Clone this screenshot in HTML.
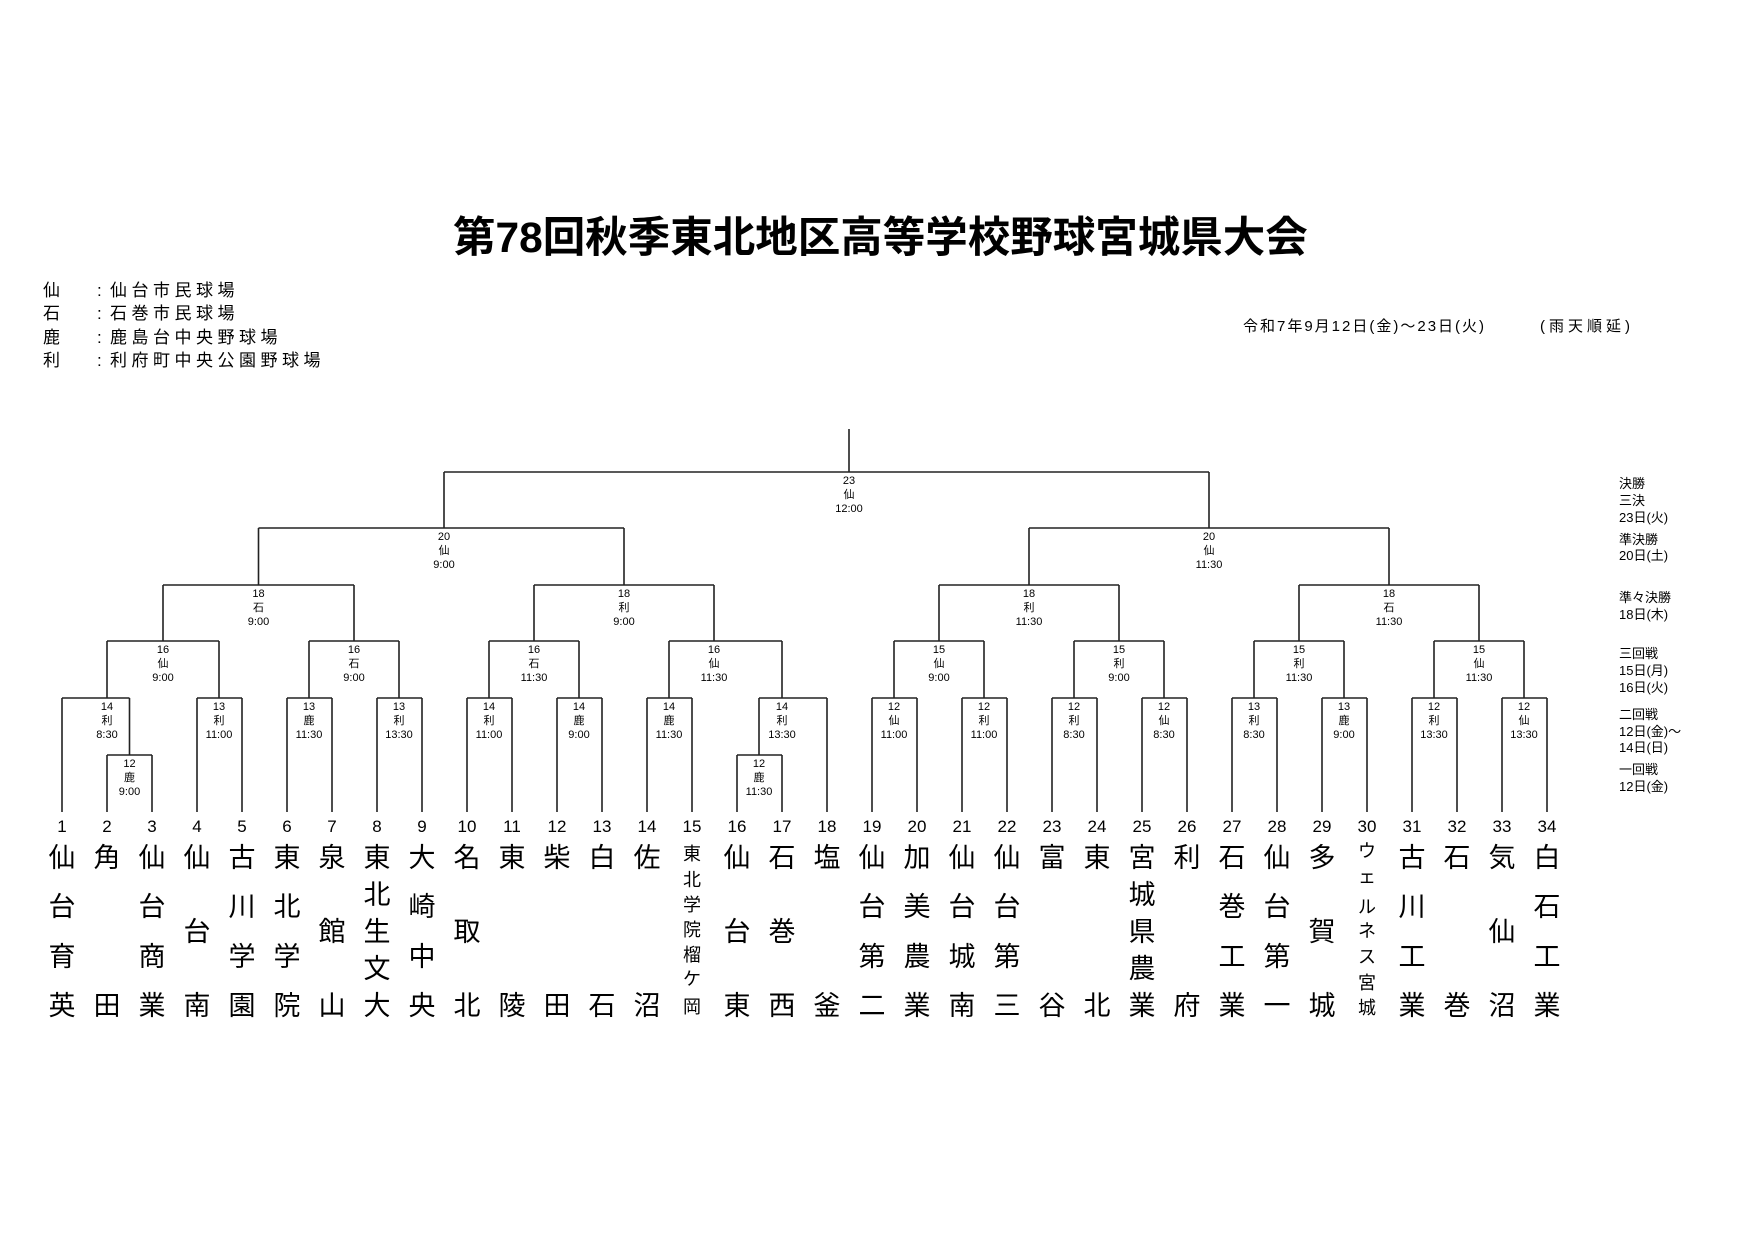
<!DOCTYPE html>
<html><head><meta charset="utf-8"><style>
html,body{margin:0;padding:0;background:#fff;}
svg{display:block;}
text{font-family:"Liberation Sans","Noto Sans CJK JP",sans-serif;fill:#000;}
.t{font-size:11px;text-anchor:middle;}
.n{font-size:17px;text-anchor:middle;}
.k{font-size:27px;text-anchor:middle;}
.s{font-size:18px;text-anchor:middle;}
.lg{font-size:17px;}
.r{font-size:13px;}
</style></head><body>
<svg width="1754" height="1240" viewBox="0 0 1754 1240" xmlns="http://www.w3.org/2000/svg">
<text x="453" y="252" style="font-size:42.5px;font-weight:bold;">第78回秋季東北地区高等学校野球宮城県大会</text>
<g class="lg">
<text x="43" y="296">仙</text><text x="97" y="296">:</text><text x="110" y="296" letter-spacing="4.5">仙台市民球場</text>
<text x="43" y="319">石</text><text x="97" y="319">:</text><text x="110" y="319" letter-spacing="4.5">石巻市民球場</text>
<text x="43" y="343">鹿</text><text x="97" y="343">:</text><text x="110" y="343" letter-spacing="4.5">鹿島台中央野球場</text>
<text x="43" y="366">利</text><text x="97" y="366">:</text><text x="110" y="366" letter-spacing="4.5">利府町中央公園野球場</text>
</g>
<text x="1243" y="331" style="font-size:15px;" letter-spacing="2">令和7年9月12日(金)～23日(火)</text>
<text x="1540" y="331" style="font-size:15px;" letter-spacing="4">(雨天順延)</text>
<g class="r">
<text x="1619" y="488">決勝</text><text x="1619" y="505">三決</text><text x="1619" y="522">23日(火)</text>
<text x="1619" y="544">準決勝</text><text x="1619" y="560">20日(土)</text>
<text x="1619" y="602">準々決勝</text><text x="1619" y="619">18日(木)</text>
<text x="1619" y="658">三回戦</text><text x="1619" y="675">15日(月)</text><text x="1619" y="692">16日(火)</text>
<text x="1619" y="719">二回戦</text><text x="1619" y="736">12日(金)～</text><text x="1619" y="752">14日(日)</text>
<text x="1619" y="774">一回戦</text><text x="1619" y="791">12日(金)</text>
</g>
<path fill="none" stroke="#222" stroke-width="1.6" d="
M444 472H1209 M258.5 528H624 M1029 528H1389
M163 585H354 M534 585H714 M939 585H1119 M1299 585H1479
M107 641H219 M309 641H399 M489 641H579 M669 641H782 M894 641H984 M1074 641H1164 M1254 641H1344 M1434 641H1524
M62 698H129.5 M197 698H242 M287 698H332 M377 698H422 M467 698H512 M557 698H602 M647 698H692 M759 698H827 M872 698H917 M962 698H1007 M1052 698H1097 M1142 698H1187 M1232 698H1277 M1322 698H1367 M1412 698H1457 M1502 698H1547
M107 755H152 M737 755H782
M849 429V472
M444 472V528 M1209 472V528
M258.5 528V585 M624 528V585 M1029 528V585 M1389 528V585
M163 585V641 M354 585V641 M534 585V641 M714 585V641 M939 585V641 M1119 585V641 M1299 585V641 M1479 585V641
M107 641V698 M219 641V698 M309 641V698 M399 641V698 M489 641V698 M579 641V698 M669 641V698 M782 641V698 M894 641V698 M984 641V698 M1074 641V698 M1164 641V698 M1254 641V698 M1344 641V698 M1434 641V698 M1524 641V698
M129.5 698V755 M759 698V755
M62 698V812 M107 755V812 M152 755V812 M197 698V812 M242 698V812 M287 698V812 M332 698V812 M377 698V812 M422 698V812 M467 698V812 M512 698V812 M557 698V812 M602 698V812 M647 698V812 M692 698V812 M737 755V812 M782 755V812 M827 698V812
M872 698V812 M917 698V812 M962 698V812 M1007 698V812 M1052 698V812 M1097 698V812 M1142 698V812 M1187 698V812 M1232 698V812 M1277 698V812 M1322 698V812 M1367 698V812 M1412 698V812 M1457 698V812 M1502 698V812 M1547 698V812
"/>
<g class="t">
<text x="849" y="484">23</text><text x="849" y="498">仙</text><text x="849" y="512">12:00</text>
<text x="444" y="540">20</text><text x="444" y="554">仙</text><text x="444" y="568">9:00</text>
<text x="1209" y="540">20</text><text x="1209" y="554">仙</text><text x="1209" y="568">11:30</text>
<text x="258.5" y="597">18</text><text x="258.5" y="611">石</text><text x="258.5" y="625">9:00</text>
<text x="624" y="597">18</text><text x="624" y="611">利</text><text x="624" y="625">9:00</text>
<text x="1029" y="597">18</text><text x="1029" y="611">利</text><text x="1029" y="625">11:30</text>
<text x="1389" y="597">18</text><text x="1389" y="611">石</text><text x="1389" y="625">11:30</text>
<text x="163" y="653">16</text><text x="163" y="667">仙</text><text x="163" y="681">9:00</text>
<text x="354" y="653">16</text><text x="354" y="667">石</text><text x="354" y="681">9:00</text>
<text x="534" y="653">16</text><text x="534" y="667">石</text><text x="534" y="681">11:30</text>
<text x="714" y="653">16</text><text x="714" y="667">仙</text><text x="714" y="681">11:30</text>
<text x="939" y="653">15</text><text x="939" y="667">仙</text><text x="939" y="681">9:00</text>
<text x="1119" y="653">15</text><text x="1119" y="667">利</text><text x="1119" y="681">9:00</text>
<text x="1299" y="653">15</text><text x="1299" y="667">利</text><text x="1299" y="681">11:30</text>
<text x="1479" y="653">15</text><text x="1479" y="667">仙</text><text x="1479" y="681">11:30</text>
<text x="107" y="710">14</text><text x="107" y="724">利</text><text x="107" y="738">8:30</text>
<text x="219" y="710">13</text><text x="219" y="724">利</text><text x="219" y="738">11:00</text>
<text x="309" y="710">13</text><text x="309" y="724">鹿</text><text x="309" y="738">11:30</text>
<text x="399" y="710">13</text><text x="399" y="724">利</text><text x="399" y="738">13:30</text>
<text x="489" y="710">14</text><text x="489" y="724">利</text><text x="489" y="738">11:00</text>
<text x="579" y="710">14</text><text x="579" y="724">鹿</text><text x="579" y="738">9:00</text>
<text x="669" y="710">14</text><text x="669" y="724">鹿</text><text x="669" y="738">11:30</text>
<text x="782" y="710">14</text><text x="782" y="724">利</text><text x="782" y="738">13:30</text>
<text x="894" y="710">12</text><text x="894" y="724">仙</text><text x="894" y="738">11:00</text>
<text x="984" y="710">12</text><text x="984" y="724">利</text><text x="984" y="738">11:00</text>
<text x="1074" y="710">12</text><text x="1074" y="724">利</text><text x="1074" y="738">8:30</text>
<text x="1164" y="710">12</text><text x="1164" y="724">仙</text><text x="1164" y="738">8:30</text>
<text x="1254" y="710">13</text><text x="1254" y="724">利</text><text x="1254" y="738">8:30</text>
<text x="1344" y="710">13</text><text x="1344" y="724">鹿</text><text x="1344" y="738">9:00</text>
<text x="1434" y="710">12</text><text x="1434" y="724">利</text><text x="1434" y="738">13:30</text>
<text x="1524" y="710">12</text><text x="1524" y="724">仙</text><text x="1524" y="738">13:30</text>
<text x="129.5" y="767">12</text><text x="129.5" y="781">鹿</text><text x="129.5" y="795">9:00</text>
<text x="759" y="767">12</text><text x="759" y="781">鹿</text><text x="759" y="795">11:30</text>
</g>
<g class="n">
<text x="62" y="832">1</text><text x="107" y="832">2</text><text x="152" y="832">3</text><text x="197" y="832">4</text><text x="242" y="832">5</text><text x="287" y="832">6</text><text x="332" y="832">7</text><text x="377" y="832">8</text><text x="422" y="832">9</text><text x="467" y="832">10</text><text x="512" y="832">11</text><text x="557" y="832">12</text><text x="602" y="832">13</text><text x="647" y="832">14</text><text x="692" y="832">15</text><text x="737" y="832">16</text><text x="782" y="832">17</text><text x="827" y="832">18</text><text x="872" y="832">19</text><text x="917" y="832">20</text><text x="962" y="832">21</text><text x="1007" y="832">22</text><text x="1052" y="832">23</text><text x="1097" y="832">24</text><text x="1142" y="832">25</text><text x="1187" y="832">26</text><text x="1232" y="832">27</text><text x="1277" y="832">28</text><text x="1322" y="832">29</text><text x="1367" y="832">30</text><text x="1412" y="832">31</text><text x="1457" y="832">32</text><text x="1502" y="832">33</text><text x="1547" y="832">34</text>
</g>
<g class="k">
<text x="62" y="867">仙</text><text x="62" y="916">台</text><text x="62" y="966">育</text><text x="62" y="1015">英</text>
<text x="107" y="867">角</text><text x="107" y="1015">田</text>
<text x="152" y="867">仙</text><text x="152" y="916">台</text><text x="152" y="966">商</text><text x="152" y="1015">業</text>
<text x="197" y="867">仙</text><text x="197" y="941">台</text><text x="197" y="1015">南</text>
<text x="242" y="867">古</text><text x="242" y="916">川</text><text x="242" y="966">学</text><text x="242" y="1015">園</text>
<text x="287" y="867">東</text><text x="287" y="916">北</text><text x="287" y="966">学</text><text x="287" y="1015">院</text>
<text x="332" y="867">泉</text><text x="332" y="941">館</text><text x="332" y="1015">山</text>
<text x="377" y="867">東</text><text x="377" y="904">北</text><text x="377" y="941">生</text><text x="377" y="978">文</text><text x="377" y="1015">大</text>
<text x="422" y="867">大</text><text x="422" y="916">崎</text><text x="422" y="966">中</text><text x="422" y="1015">央</text>
<text x="467" y="867">名</text><text x="467" y="941">取</text><text x="467" y="1015">北</text>
<text x="512" y="867">東</text><text x="512" y="1015">陵</text>
<text x="557" y="867">柴</text><text x="557" y="1015">田</text>
<text x="602" y="867">白</text><text x="602" y="1015">石</text>
<text x="647" y="867">佐</text><text x="647" y="1015">沼</text>
<text x="737" y="867">仙</text><text x="737" y="941">台</text><text x="737" y="1015">東</text>
<text x="782" y="867">石</text><text x="782" y="941">巻</text><text x="782" y="1015">西</text>
<text x="827" y="867">塩</text><text x="827" y="1015">釜</text>
<text x="872" y="867">仙</text><text x="872" y="916">台</text><text x="872" y="966">第</text><text x="872" y="1015">二</text>
<text x="917" y="867">加</text><text x="917" y="916">美</text><text x="917" y="966">農</text><text x="917" y="1015">業</text>
<text x="962" y="867">仙</text><text x="962" y="916">台</text><text x="962" y="966">城</text><text x="962" y="1015">南</text>
<text x="1007" y="867">仙</text><text x="1007" y="916">台</text><text x="1007" y="966">第</text><text x="1007" y="1015">三</text>
<text x="1052" y="867">富</text><text x="1052" y="1015">谷</text>
<text x="1097" y="867">東</text><text x="1097" y="1015">北</text>
<text x="1142" y="867">宮</text><text x="1142" y="904">城</text><text x="1142" y="941">県</text><text x="1142" y="978">農</text><text x="1142" y="1015">業</text>
<text x="1187" y="867">利</text><text x="1187" y="1015">府</text>
<text x="1232" y="867">石</text><text x="1232" y="916">巻</text><text x="1232" y="966">工</text><text x="1232" y="1015">業</text>
<text x="1277" y="867">仙</text><text x="1277" y="916">台</text><text x="1277" y="966">第</text><text x="1277" y="1015">一</text>
<text x="1322" y="867">多</text><text x="1322" y="941">賀</text><text x="1322" y="1015">城</text>
<text x="1412" y="867">古</text><text x="1412" y="916">川</text><text x="1412" y="966">工</text><text x="1412" y="1015">業</text>
<text x="1457" y="867">石</text><text x="1457" y="1015">巻</text>
<text x="1502" y="867">気</text><text x="1502" y="941">仙</text><text x="1502" y="1015">沼</text>
<text x="1547" y="867">白</text><text x="1547" y="916">石</text><text x="1547" y="966">工</text><text x="1547" y="1015">業</text>
</g>
<g class="s">
<text x="692" y="860">東</text><text x="692" y="886">北</text><text x="692" y="911">学</text><text x="692" y="936">院</text><text x="692" y="961">榴</text><text x="692" y="985">ケ</text><text x="692" y="1013">岡</text>
<text x="1367" y="857">ウ</text><text x="1367" y="883">ェ</text><text x="1367" y="913">ル</text><text x="1367" y="937">ネ</text><text x="1367" y="963">ス</text><text x="1367" y="989">宮</text><text x="1367" y="1014">城</text>
</g>
</svg>
</body></html>
